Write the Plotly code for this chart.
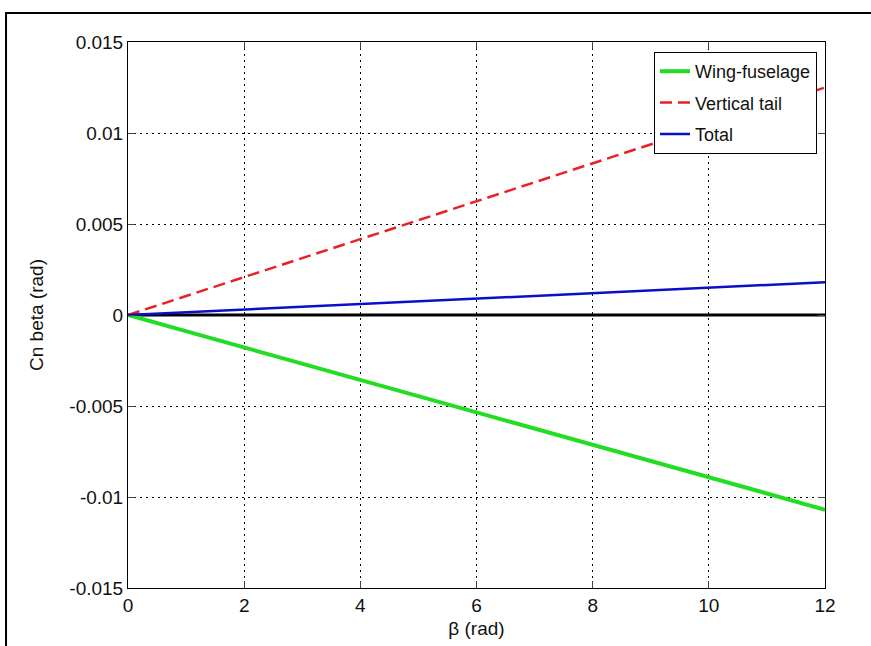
import plotly.graph_objects as go

beta = [0, 1, 2, 3, 4, 5, 6, 7, 8, 9, 10, 11, 12]
wing_fuselage = [0, -0.00089, -0.00178, -0.00268, -0.00357, -0.00446, -0.00535,
                 -0.00624, -0.00713, -0.00803, -0.00892, -0.00981, -0.0107]
vertical_tail = [0, 0.00104, 0.00208, 0.00313, 0.00417, 0.00521, 0.00625,
                 0.00729, 0.00833, 0.00938, 0.01042, 0.01146, 0.0125]
total = [0, 0.00015, 0.0003, 0.00045, 0.0006, 0.00075, 0.0009,
         0.00105, 0.0012, 0.00135, 0.0015, 0.00165, 0.0018]
zero_x = [0, 12]
zero_y = [0, 0]

x_ticks = [0, 2, 4, 6, 8, 10, 12]
y_ticks = [-0.015, -0.01, -0.005, 0, 0.005, 0.01, 0.015]
y_ticktext = ["-0.015", "-0.01", "-0.005", "0", "0.005", "0.01", "0.015"]

fam = "Liberation Sans, Arial, Helvetica, sans-serif"
font = dict(family=fam, size=19, color="#111111")

fig = go.Figure()
fig.add_trace(go.Scatter(x=zero_x, y=zero_y, mode="lines",
                         line=dict(color="black", width=3), showlegend=False,
                         hoverinfo="skip"))
fig.add_trace(go.Scatter(x=beta, y=wing_fuselage, mode="lines", name="Wing-fuselage",
                         legendgroup="a",
                         line=dict(color="#22dd22", width=4)))
fig.add_trace(go.Scatter(x=beta, y=vertical_tail, mode="lines", name="Vertical tail",
                         legendgroup="b",
                         line=dict(color="#e8202a", width=2.5, dash="12px,6px")))
fig.add_trace(go.Scatter(x=beta, y=total, mode="lines", name="Total",
                         legendgroup="c",
                         line=dict(color="#0a10c8", width=2.5)))

fig.update_layout(
    width=871, height=646,
    margin=dict(l=128, r=46, t=42, b=58),
    paper_bgcolor="white", plot_bgcolor="white",
    font=font,
    showlegend=True,
    legend=dict(x=0.9885, y=0.9817, xanchor="right", yanchor="top",
                bgcolor="white", bordercolor="black", borderwidth=1,
                font=dict(family=fam, size=18, color="#111111"),
                tracegroupgap=5),
    xaxis=dict(range=[0, 12], tickvals=x_ticks, ticks="inside", ticklen=7,
               showline=True, linecolor="black", linewidth=1, mirror="ticks",
               showgrid=True, gridcolor="black", griddash="2px,4px", gridwidth=1,
               zeroline=False, title=dict(text="β (rad)", standoff=6, font=font),
               tickfont=font),
    yaxis=dict(range=[-0.015, 0.015], tickvals=y_ticks, ticktext=y_ticktext,
               ticks="inside", ticklen=7,
               showline=True, linecolor="black", linewidth=1, mirror="ticks",
               showgrid=True, gridcolor="black", griddash="2px,4px", gridwidth=1,
               zeroline=False, title=dict(text="Cn beta (rad)", standoff=20, font=font),
               tickfont=font),
    shapes=[dict(type="rect", xref="paper", yref="paper",
                 x0=-0.175, x1=1.3, y0=-0.3, y1=1.053,
                 line=dict(color="black", width=2), fillcolor="rgba(0,0,0,0)",
                 layer="above")],
)

fig.write_html("out.html", config={"displayModeBar": False},
               post_script="document.body.style.margin='0px';")
